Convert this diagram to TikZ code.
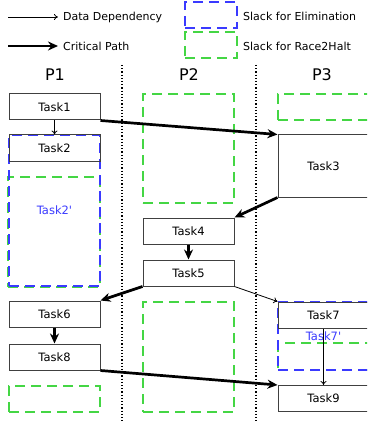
\documentclass[tikz,border=0pt]{standalone}
\usepackage{fontspec}
\setmainfont{DejaVu Sans}
\usepackage{xcolor}
\definecolor{Slack Green}{HTML}{44d644}
\definecolor{Slack Blue}{HTML}{3a3aff}
\colorlet{cGreen}{Slack Green}
\colorlet{cBlue}{Slack Blue}
\usepackage{tikz}
\usetikzlibrary{positioning, arrows.meta}
\tikzset{
	x = 1pt,
	y = -1pt,
	font = \fontsize{11.5}{13}\selectfont,
	task/.style={
		draw=black!75,
		line width=1pt,
		minimum width=91pt,
		minimum height=26pt,
		inner sep=0pt
	},
	slack/.style={
		draw=cGreen,
		line width=1.05pt,
		dash pattern=on 10pt off 6pt,
		minimum width=91pt,
		minimum height=26pt,
		inner sep=0pt
	},
	elim/.style={
		slack,
		draw=cBlue,
		text=cBlue
	},
	dep/.style={
		-{To[length=4pt, width=6pt]},
		line width=.8pt
	},
	crit/.style={
		-{Stealth[length=10pt, width=9pt]},
		line width=2.7pt
	},
	proc/.style={font=\fontsize{16}{18}\selectfont},
	legend/.style={anchor=west, inner sep=0pt, font=\fontsize{11}{12}\selectfont},
	sep/.style={dotted, line width=1.2pt}
}

\begin{document}
\begin{tikzpicture}
\clip (0,0) rectangle (367,422);
% ---
% legend
% ---
\coordinate (dd-s) at (8,17);
\node[legend] (dd-t) at (63,17) {Data Dependency};
\coordinate (cp-s) at (8,46);
\node[legend] (cp-t) at (63,46) {Critical Path};
\node[elim, minimum width=52pt] (el-box) at (211,15) {};
\node[legend] (el-t) at (243,16) {Slack for Elimination};
\node[slack, minimum width=52pt] (rh-box) at (211,45) {};
\node[legend] (rh-t) at (243,46) {Slack for Race2Halt};

\draw[dep] (dd-s) -- ([xshift=-5pt]dd-t.west);
\draw[crit] (cp-s) -- ([xshift=-5pt]cp-t.west);

% ---
% processors
% ---
\node[proc] (p1) at (55,75) {P1};
\node[proc] (p2) at (189,75) {P2};
\node[proc] (p3) at (322,75) {P3};
\coordinate (sep1-t) at (122,65);
\coordinate (sep1-b) at (122,422);
\coordinate (sep2-t) at (256,65);
\coordinate (sep2-b) at (256,422);
\draw[sep] (sep1-t) -- (sep1-b);
\draw[sep] (sep2-t) -- (sep2-b);

% ---
% slack
% ---
\node[slack, minimum width=92pt, minimum height=110pt] (s1-a) at (54,232) {};
\node[slack] (s1-b) at (54.5,399) {};
\node[slack, minimum height=109pt] (s2-a) at (188.5,148.5) {};
\node[slack, minimum height=110pt] (s2-b) at (188.5,357) {};
\node[slack] (s3-a) at (323.5,107) {};
\node[slack, minimum height=27pt] (s3-b) at (323.5,356.5) {};
\node[elim, minimum height=151pt] (task2') at (54.5,210.5) {Task2\textquotesingle};
\node[elim, minimum height=68pt] (task7') at (323.5,336) {Task7\textquotesingle};

% ---
% tasks
% ---
\node[task] (task1) at (54.5,107) {Task1};
\node[task] (task2) at (54.5,148) {Task2};
\node[task, minimum height=62pt] (task3) at (323.5,166) {Task3};
\node[task] (task4) at (188.5,231) {Task4};
\node[task] (task5) at (188.5,273) {Task5};
\node[task] (task6) at (54.5,314) {Task6};
\node[task] (task7) at (323.5,315) {Task7};
\node[task] (task8) at (54.5,357) {Task8};
\node[task] (task9) at (323.5,398.5) {Task9};

\draw[dep] (task1) -- (task2);
\draw[crit] (task1.south east) -- (task3.north west);
\draw[crit] (task3.south west) -- (task4.north east);
\draw[crit] (task4) -- (task5);
\draw[crit] (task5.south west) -- (task6.north east);
\draw[dep] (task5.south east) -- (task7.north west);
\draw[crit] (task6) -- (task8);
\draw[crit] (task8.south east) -- (task9.north west);
\draw[dep] (task7) -- (task9);
\end{tikzpicture}
\end{document}
